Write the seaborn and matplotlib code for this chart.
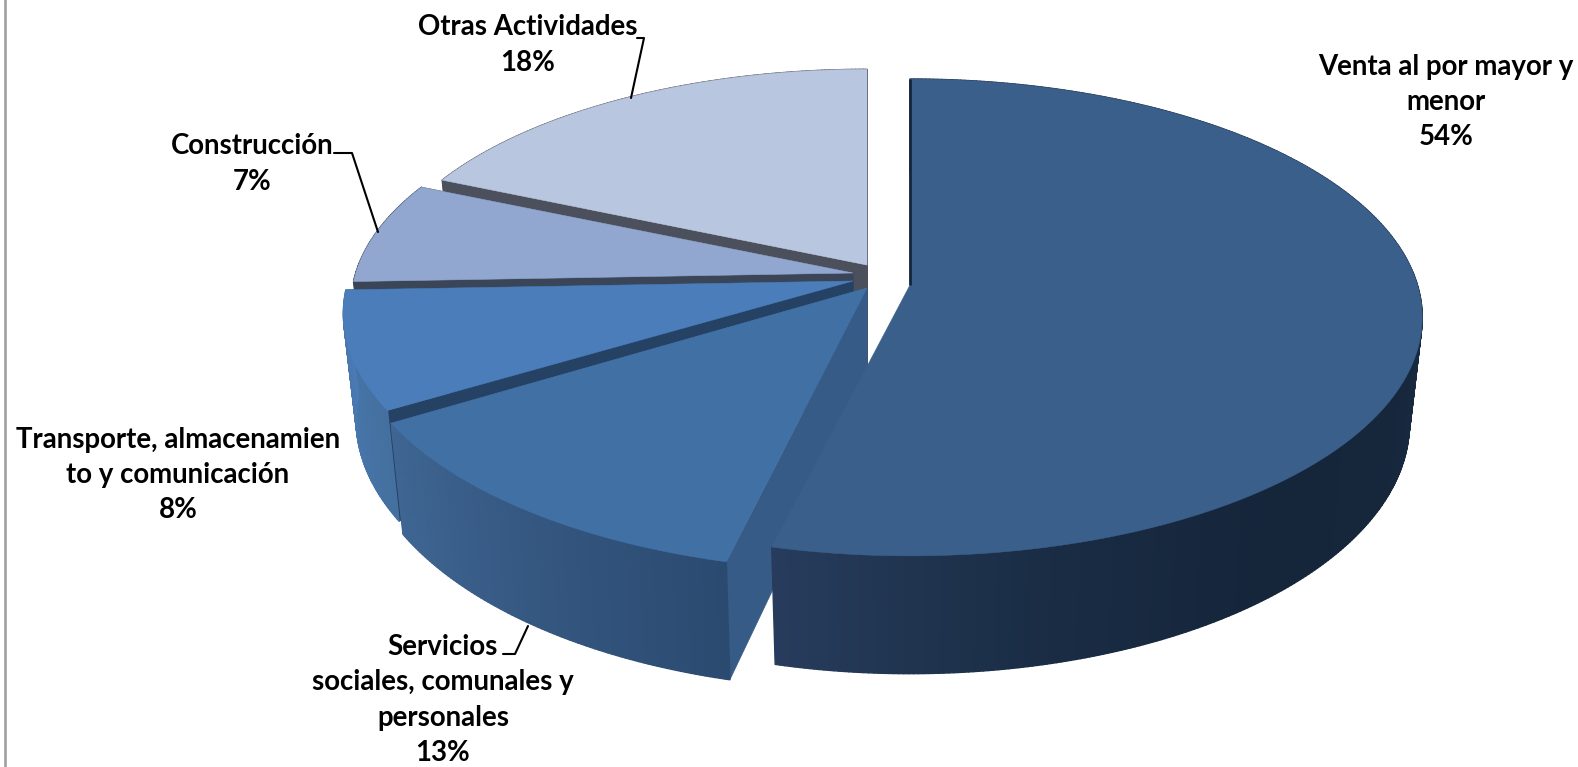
import numpy as np
import matplotlib
matplotlib.use("Agg")
import matplotlib.pyplot as plt
from matplotlib.collections import PolyCollection
from matplotlib.patches import Polygon
import seaborn as sns

# ---- data ----
categories = ["Venta al por mayor y\nmenor", "Servicios\nsociales, comunales y\npersonales",
              "Transporte, almacenamien\nto y comunicación", "Construcción", "Otras Actividades"]
values = [53.8, 12.6, 8.0, 7.2, 18.4]

# ---- styles ----
top_colors = ["#3a5f8b", "#4170a5", "#4b7dba", "#91a7d0", "#b9c6e0"]
cut_colors = ["#13263d", "#375b87", "#254265", "#3a4558", "#4b505c"]
arc_colors = [["#1b2d44", "#16273c", "#15253a", "#1a2d45", "#273c5c"],
              ["#2b4a70", "#3f6693"], ["#44709f", "#4a7ab3"],
              ["#3a4558", "#3a4558"], ["#4b505c", "#4b505c"]]
apex_x = [910, 867, 853, 853, 867]
apex_y = [285, 288, 281, 273, 265]
scale_x = [0.995, 1.012, 0.99, 0.975, 0.96]
scale_y = [1.0, 1.045, 1.0, 0.96, 0.95]
draw_order = [4, 3, 2, 1, 0]
label_pos = [(1446, 102), (443, 700), (178, 475), (252, 164), (528, 45)]
RX, RY, PERSP = 510.0, 234.0, 0.136
DROP, X_SHRINK, Y_GROW = 104.3, 0.975, 1.05

sns.set_theme(style="white")
plt.rcParams["font.family"] = ["Lato", "DejaVu Sans"]
fig = plt.figure(figsize=(15.78, 7.67), dpi=100)
ax = fig.add_axes([0, 0, 1, 1])
ax.set_xlim(0, 1578)
ax.set_ylim(767, 0)
ax.axis("off")


def top_pt(theta, cx, cy, sx, sy):
    u, v = np.sin(theta), -np.cos(theta)
    s = 1 / (1 - PERSP * v)
    return np.column_stack([cx + sx * RX * u * s, cy + sy * RY * v * s])


def bottom(pts, cx, cy):
    return np.column_stack([cx + X_SHRINK * (pts[:, 0] - cx),
                            pts[:, 1] + DROP + (Y_GROW - 1) * (pts[:, 1] - cy)])


edges = np.cumsum([0] + values) / sum(values) * 2 * np.pi
for i in draw_order:
    a0, a1 = edges[i], edges[i + 1]
    cx, cy = apex_x[i], apex_y[i]
    order = draw_order.index(i) * 3
    th = np.linspace(a0, a1, max(int(np.degrees(a1 - a0) * 2), 8))
    rim = top_pt(th, cx, cy, scale_x[i], scale_y[i])
    low = bottom(rim, cx, cy)
    c_top = np.array([[cx, cy]])
    c_low = bottom(c_top, cx, cy)
    # radial walls
    for p, q in [(rim[0], low[0]), (rim[-1], low[-1])]:
        if i == 0:
            continue
        ax.add_patch(Polygon([c_top[0], p, q, c_low[0]], closed=True,
                             fc=cut_colors[i], ec=cut_colors[i], lw=0.5, zorder=order))
    # curved wall with shading
    pal = sns.blend_palette(arc_colors[i], n_colors=len(th) - 1)
    if i == 0:
        n_vis = int((th[:-1] > np.pi / 2).sum())
        pal = [arc_colors[0][0]] * (len(th) - 1 - n_vis) + sns.blend_palette(arc_colors[0], n_colors=n_vis)
    quads = [[rim[j], rim[j + 1], low[j + 1], low[j]] for j in range(len(th) - 1)]
    ax.add_collection(PolyCollection(quads, facecolors=pal, edgecolors=pal, linewidths=1.0, zorder=order + 1))
    ax.add_patch(Polygon(np.vstack([c_top, rim]), closed=True, fc=top_colors[i],
                         ec=top_colors[i], lw=0.4, zorder=order + 2))
    if i == 0:
        ax.plot([rim[0, 0], cx], [rim[0, 1], cy], color=cut_colors[0], lw=2, zorder=order + 3,
                solid_capstyle="butt")

# labels
for name, val, (lx, ly) in zip(categories, values, label_pos):
    ax.text(lx, ly, f"{name}\n{round(val)}%", ha="center", va="center", color="black",
            fontsize=19.9, fontweight="bold", linespacing=1.434, zorder=30)

# leader lines
leaders = [([637, 644, 631], [38, 38, 98]), ([334, 352, 378], [153, 153, 232]), ([503, 515, 528], [654, 654, 626])]
for lxs, lys in leaders:
    ax.plot(lxs, lys, color="black", lw=1.5, zorder=29)

ax.plot([5, 5], [0, 767], color="#a0a0a0", lw=1.9, zorder=31)
fig.savefig("out.png", dpi=100, facecolor="white")
